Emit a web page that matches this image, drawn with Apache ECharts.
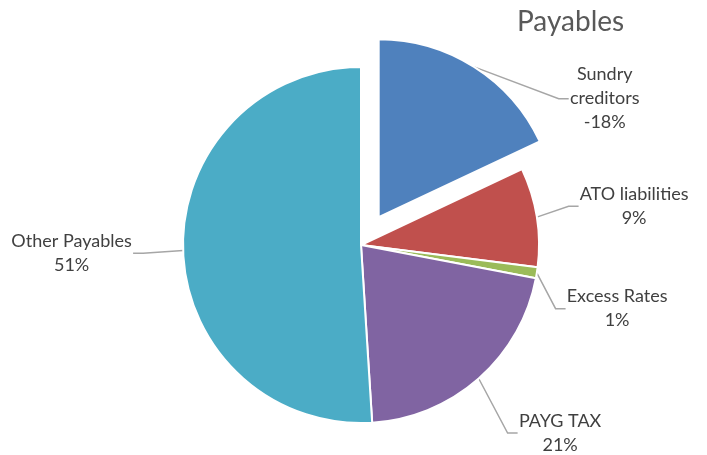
<!DOCTYPE html>
<html>
<head>
<meta charset="utf-8">
<script src="https://cdn.jsdelivr.net/npm/echarts@6/dist/echarts.min.js"></script>
<style>
  html, body { margin: 0; padding: 0; background: #fff; }
  #chart { width: 707px; height: 455px; }
</style>
</head>
<body>
<div id="chart"></div>
<script>
// chart data
const categories = ['Sundry creditors', 'ATO liabilities', 'Excess Rates', 'PAYG TAX', 'Other Payables'];
const values = [-18, 9, 1, 21, 51];
const colors = ['#4F81BD', '#C0504D', '#9BBB59', '#8064A2', '#4BACC6'];
const exploded = 0; // index of the slice pulled out of the pie

const labelFont = '18px Lato';
const pieCenter = [361, 245];
const explodeDist = 33;

// nudge labels away from the default radial spot, like Excel spreads them
const labelNudge = [[70, 47], [9, -8], [-4, 33], [12, 41], [-17, 2]];

// measure text so each label's lines can be centred in a box of its own width
const ctx = document.createElement('canvas').getContext('2d');
ctx.font = labelFont;
function wrapName(name) {
    return name.length > 15 ? name.replace(' ', '\n') : name;
}
function boxWidth(name) {
    return Math.ceil(Math.max.apply(null, wrapName(name).split('\n').map(s => ctx.measureText(s).width))) + 2;
}

const total = values.reduce((s, v) => s + Math.abs(v), 0);

// centre of the exploded slice: shifted out along its mid angle
let before = 0;
for (let i = 0; i < exploded; i++) before += Math.abs(values[i]);
const midAngle = (before + Math.abs(values[exploded]) / 2) / total * Math.PI * 2;
const explodedCenter = [
    pieCenter[0] + explodeDist * Math.sin(midAngle),
    pieCenter[1] - explodeDist * Math.cos(midAngle)
];

const hidden = 'rgba(0,0,0,0)';

function buildData(showExploded) {
    return categories.map((name, i) => {
        const visible = (i === exploded) === showExploded;
        return {
            name: name,
            value: Math.abs(values[i]),
            itemStyle: visible ? { color: colors[i] } : { color: hidden, borderWidth: 0 },
            label: {
                show: visible,
                rich: {
                    c: {
                        width: boxWidth(name),
                        align: 'center',
                        fontFamily: 'Lato',
                        fontSize: 18,
                        lineHeight: 24,
                        color: '#404040'
                    }
                }
            },
            labelLine: { show: visible }
        };
    });
}

function pieSeries(center, showExploded) {
    return {
        type: 'pie',
        center: center,
        radius: 178,
        startAngle: 90,
        clockwise: true,
        silent: true,
        avoidLabelOverlap: false,
        itemStyle: {
            borderColor: '#fff',
            borderWidth: 2
        },
        label: {
            position: 'outside',
            formatter: function (p) {
                const v = values[p.dataIndex];
                const pct = (v < 0 ? '-' : '') + Math.round(Math.abs(v) / total * 100) + '%';
                return wrapName(p.name).split('\n').concat([pct]).map(s => '{c|' + s + '}').join('\n');
            }
        },
        labelLine: {
            length: 18,
            length2: 10,
            lineStyle: { color: '#A6A6A6', width: 1.5 }
        },
        labelLayout: function (p) {
            const r = p.labelRect;
            const n = labelNudge[p.dataIndex];
            return {
                x: r.x + r.width / 2 + n[0],
                y: r.y + r.height / 2 + n[1],
                align: 'center',
                verticalAlign: 'middle'
            };
        },
        data: buildData(showExploded)
    };
}

const chart = echarts.init(document.getElementById('chart'));

chart.setOption({
    animation: false,
    title: {
        text: 'Payables',
        left: 512,
        top: 3,
        textStyle: {
            fontFamily: 'Lato',
            fontSize: 28,
            fontWeight: 'normal',
            color: '#595959'
        }
    },
    series: [
        pieSeries(pieCenter, false),
        pieSeries(explodedCenter, true)
    ]
});
</script>
</body>
</html>
